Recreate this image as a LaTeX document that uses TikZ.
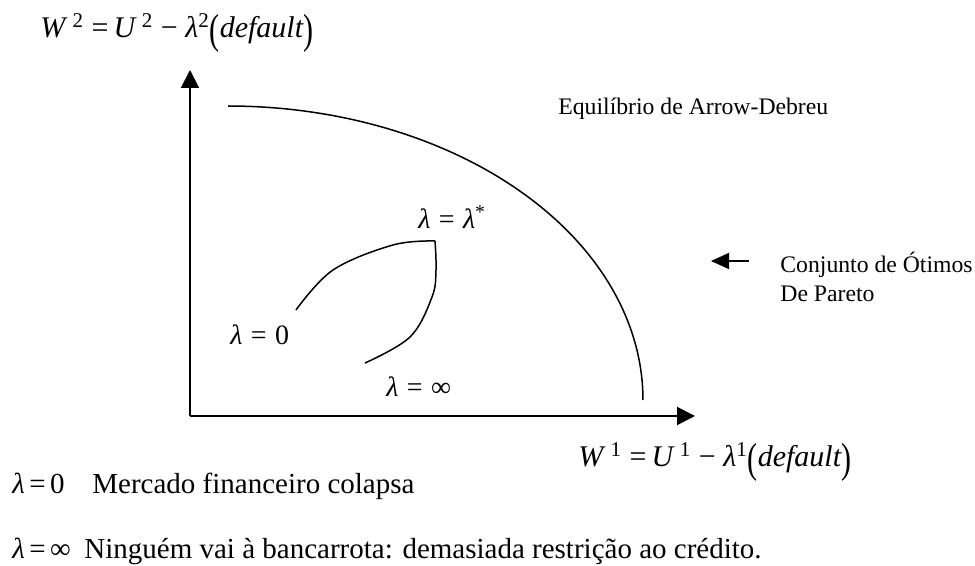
\documentclass[tikz,border=0pt]{standalone}
\usepackage{fontspec}
\setmainfont{Liberation Serif}
\usepackage{graphicx}
\usetikzlibrary{arrows.meta}
\newcommand{\bparen}[1]{\raisebox{-0.17em}{\scalebox{1}[1.4]{#1}}}
\newcommand{\lmb}{\textit{λ}}
\newcommand{\eqs}{\hspace{0.3em}=\hspace{0.3em}}
\newcommand{\eqn}{\hspace{0.15em}=\hspace{0.15em}}
\tikzset{
  lbl/.style={inner sep=0pt, anchor=base west},
  axis/.style={line width=1pt, -{Triangle[length=9pt,width=9pt]}},
  crv/.style={line width=0.75pt},
}
\begin{document}
\begin{tikzpicture}[x=0.5pt,y=-0.5pt]
\path[use as bounding box] (0,0) rectangle (975,566);
% axes
\coordinate (O) at (190,416);
\coordinate (Ytip) at (190,70);
\coordinate (Xtip) at (695,416);
\draw[axis] (O) -- (Ytip);
\draw[axis] (O) -- (Xtip);
% Pareto frontier
\draw[crv] plot[domain=90:0, samples=80] ({228+415*cos(\x)},{400-294*sin(\x)});
% inner curve
\draw[crv] plot[smooth, tension=0.6] coordinates {(296,310) (333,270) (393,245) (435,241)};
\draw[crv] plot[smooth, tension=0.6] coordinates {(435,241) (436,270) (432,297) (410,337) (365,363)};
% arrow to frontier
\coordinate (Astart) at (749,261);
\coordinate (Aend) at (711,261);
\draw[line width=0.75pt, -{Triangle[length=9pt,width=8pt]}] (Astart) -- (Aend);
% labels
\node[lbl, font=\fontsize{15}{18}\selectfont] (w2) at (40,38)
  {\textit{W}\,\textsuperscript{2}\ =\,\textit{U}\,\textsuperscript{2}\ −\ \lmb\textsuperscript{2}\bparen{(}\textit{default}\bparen{)}};
\node[lbl, font=\fontsize{15}{18}\selectfont] (w1) at (578,467)
  {\textit{W}\,\textsuperscript{1}\ =\,\textit{U}\,\textsuperscript{1}\ −\ \lmb\textsuperscript{1}\bparen{(}\textit{default}\bparen{)}};
\node[lbl, font=\fontsize{11.85}{14}\selectfont] (eq) at (558,115) {Equilíbrio de Arrow-Debreu};
\node[lbl, font=\fontsize{11.85}{14}\selectfont] (cj) at (780,273) {Conjunto de Ótimos};
\node[lbl, font=\fontsize{11.85}{14}\selectfont] (dp) at (780,302) {De Pareto};
\node[lbl, font=\fontsize{14}{17}\selectfont] (lstar) at (418,229) {\lmb\eqs\lmb\textsuperscript{*}};
\node[lbl, font=\fontsize{14}{17}\selectfont] (lzero) at (230,345) {\lmb\eqs 0};
\node[lbl, font=\fontsize{14}{17}\selectfont] (linf) at (386,397) {\lmb\eqs ∞};
\node[lbl, font=\fontsize{14.5}{17}\selectfont] (b1l) at (12,494) {\lmb\eqn 0};
\node[lbl, font=\fontsize{14.5}{17}\selectfont] (b1t) at (92,494) {Mercado financeiro colapsa};
\node[lbl, font=\fontsize{14.5}{17}\selectfont] (b2l) at (12,559) {\lmb\eqn ∞};
\node[lbl, font=\fontsize{14.5}{17}\selectfont] (b2t) at (84,559) {Ninguém vai à bancarrota: demasiada restrição ao crédito.};
\end{tikzpicture}
\end{document}
